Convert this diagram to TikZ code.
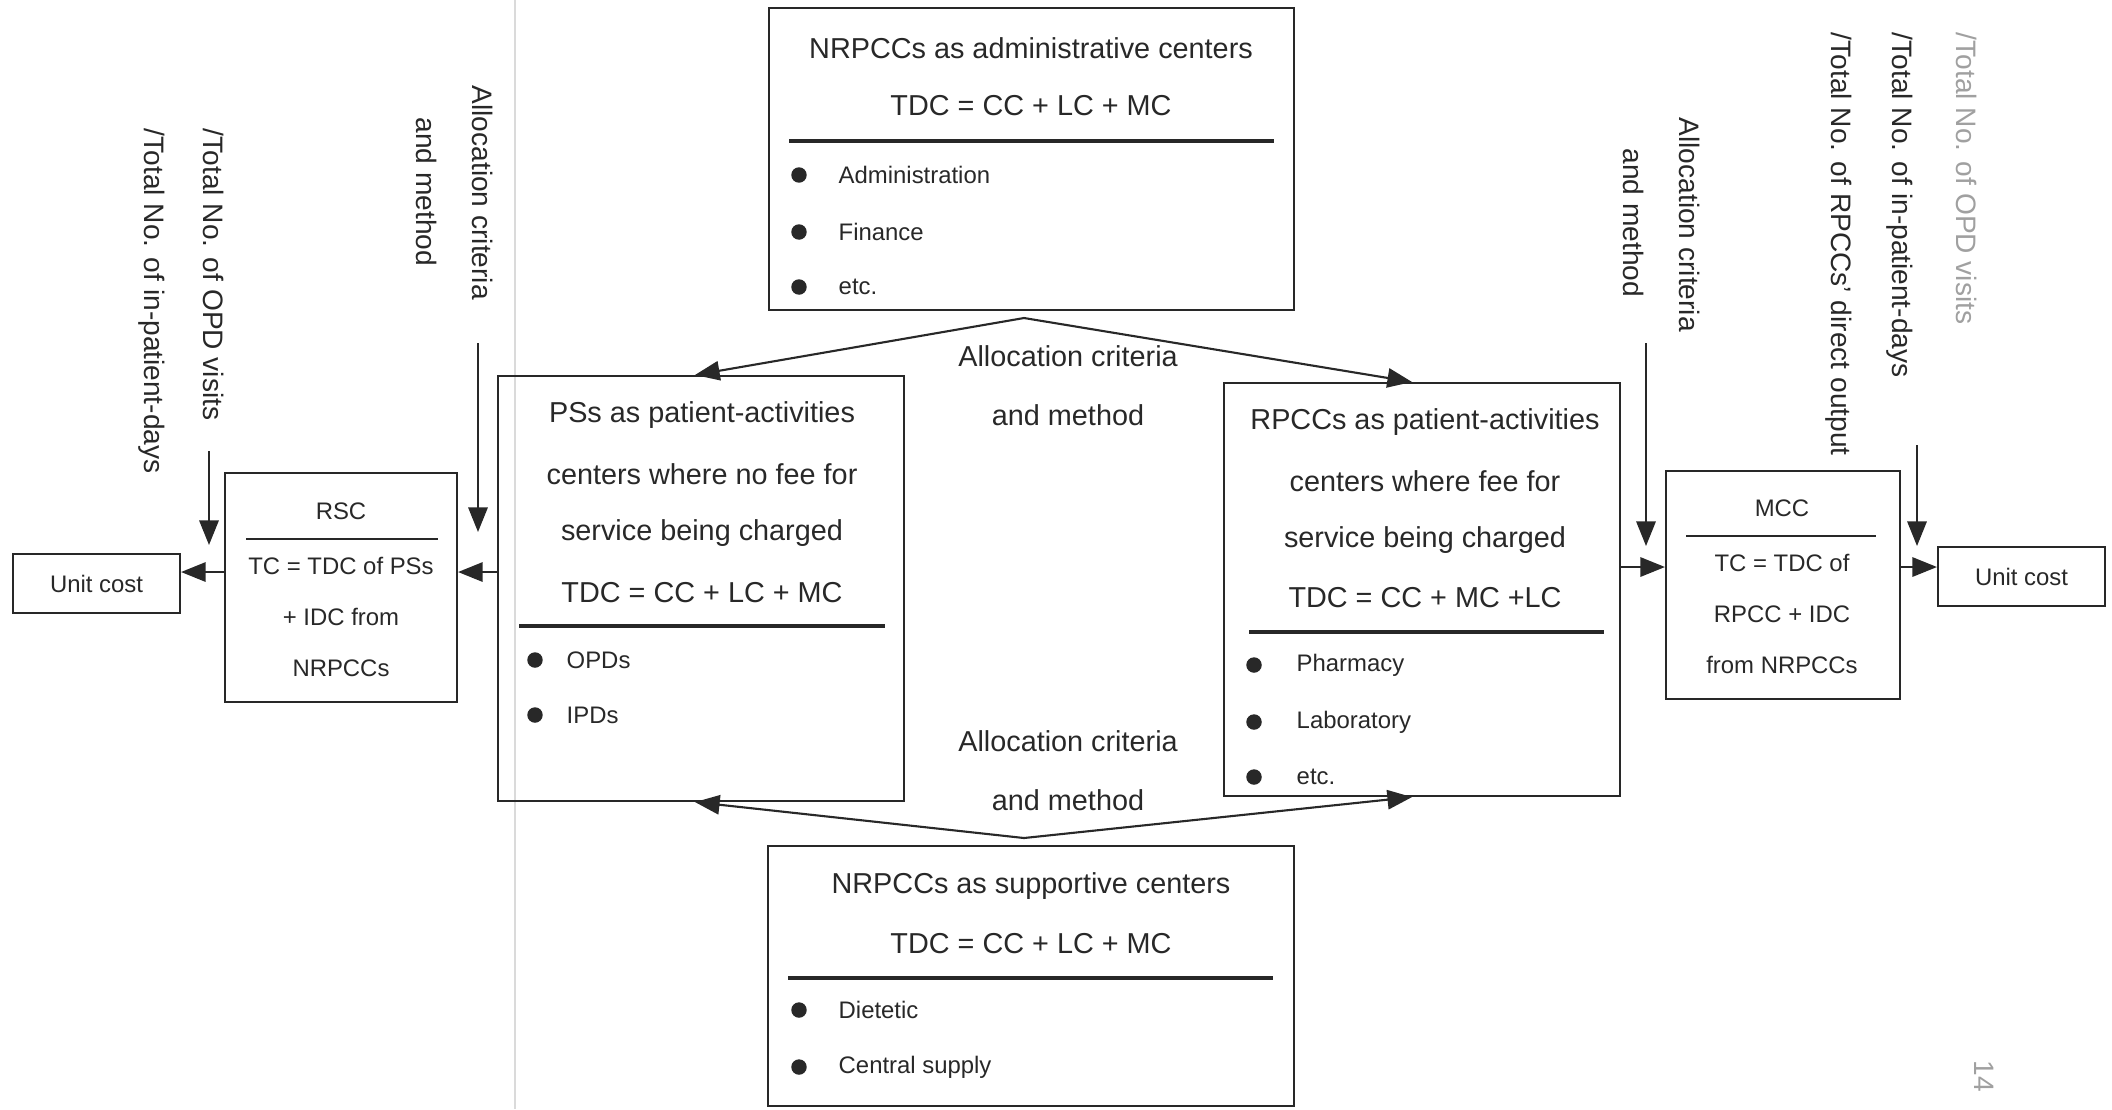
\documentclass[tikz,border=0pt]{standalone}
\usepackage{fontspec}
\setmainfont{Liberation Sans}
\usetikzlibrary{arrows.meta}
\definecolor{ink}{RGB}{40,40,40}
\definecolor{faint}{RGB}{160,160,160}
\definecolor{fold}{RGB}{218,218,218}

\tikzset{
  box/.style={draw=ink, line width=0.6pt, inner sep=0pt},
  rule/.style={draw=ink, line width=0.9pt},
  arr/.style={draw=ink, line width=0.6pt, -{Triangle[length=7pt,width=5.5pt]}},
  big/.style={text=ink, font=\fontsize{8.2}{10}\selectfont, inner sep=0pt},
  small/.style={text=ink, font=\fontsize{6.8}{8}\selectfont, inner sep=0pt},
  item/.style={small, anchor=west},
  vert/.style={text=ink, font=\fontsize{8}{10}\selectfont, inner sep=0pt, rotate=-90, anchor=west},
  dot/.style={circle, fill=ink, inner sep=0pt, minimum size=4.4pt},
}

\begin{document}
\begin{tikzpicture}[x=0.1mm,y=0.1mm,yscale=-1]
\useasboundingbox (0,0) rectangle (2112,1109);
% scanner fold
\draw[fold, line width=0.5pt] (515,0) -- (515,1109);

% boxes
\node[box, minimum width=52.5mm, minimum height=30.2mm] (adm) at (1031.5,159) {};
\node[box, minimum width=40.6mm, minimum height=42.5mm] (ps) at (701,588.5) {};
\node[box, minimum width=39.6mm, minimum height=41.3mm] (rp) at (1422,589.5) {};
\node[box, minimum width=52.6mm, minimum height=26.0mm] (sup) at (1031,976) {};
\node[box, minimum width=23.2mm, minimum height=22.9mm] (rsc) at (341,587.5) {};
\node[box, minimum width=23.4mm, minimum height=22.8mm] (mcc) at (1783,585) {};
\node[box, minimum width=16.7mm, minimum height=5.9mm] (ucl) at (96.5,583.5) {};
\node[box, minimum width=16.7mm, minimum height=5.9mm] (ucr) at (2021.5,576.5) {};

% administrative centers
\node[big] (admA) at (1031,48) {NRPCCs as administrative centers};
\node[big] (admB) at (1031,106) {TDC = CC + LC + MC};
\draw[rule] (789,141) -- (1274,141);
\node[dot] (admd1) at (799,175) {};
\node[item] (admi1) at (838,175) {Administration};
\node[dot] (admd2) at (799,232) {};
\node[item] (admi2) at (838,232) {Finance};
\node[dot] (admd3) at (799,287) {};
\node[item] (admi3) at (838,287) {etc.};

% PSs
\node[big] (psA) at (702,415) {PSs as patient-activities};
\node[big] (psB) at (702,474) {centers where no fee for};
\node[big] (psC) at (702,533) {service being charged};
\node[big] (psD) at (702,593) {TDC = CC + LC + MC};
\draw[rule] (519,626) -- (885,626);
\node[dot] (psd1) at (535,660) {};
\node[item] (psi1) at (566,660) {OPDs};
\node[dot] (psd2) at (535,715) {};
\node[item] (psi2) at (566,715) {IPDs};

% RPCCs
\node[big] (rpA) at (1425,422) {RPCCs as patient-activities};
\node[big] (rpB) at (1425,481) {centers where fee for};
\node[big] (rpC) at (1425,540) {service being charged};
\node[big] (rpD) at (1425,598) {TDC = CC + MC +LC};
\draw[rule] (1249,632) -- (1604,632);
\node[dot] (rpd1) at (1254,665) {};
\node[item] (rpi1) at (1296,665) {Pharmacy};
\node[dot] (rpd2) at (1254,722) {};
\node[item] (rpi2) at (1296,722) {Laboratory};
\node[dot] (rpd3) at (1254,777) {};
\node[item] (rpi3) at (1296,777) {etc.};

% supportive centers
\node[big] (supA) at (1031,886) {NRPCCs as supportive centers};
\node[big] (supB) at (1031,944) {TDC = CC + LC + MC};
\draw[rule] (788,978) -- (1273,978);
\node[dot] (supd1) at (799,1010) {};
\node[item] (supi1) at (838,1010) {Dietetic};
\node[dot] (supd2) at (799,1067) {};
\node[item] (supi2) at (838,1067) {Central supply};

% RSC and MCC
\node[small] (rscA) at (341,511) {RSC};
\draw[line width=0.5pt, draw=ink] (246,539) -- (438,539);
\node[small] (rscB) at (341,566) {TC = TDC of PSs};
\node[small] (rscC) at (341,617) {+ IDC from};
\node[small] (rscD) at (341,668) {NRPCCs};
\node[small] (mccA) at (1782,508) {MCC};
\draw[line width=0.5pt, draw=ink] (1686,536) -- (1876,536);
\node[small] (mccB) at (1782,563) {TC = TDC of};
\node[small] (mccC) at (1782,614) {RPCC + IDC};
\node[small] (mccD) at (1782,665) {from NRPCCs};
\node[small] (uclT) at (ucl) {Unit cost};
\node[small] (ucrT) at (ucr) {Unit cost};

% allocation labels
\node[big] (alcA) at (1068,356) {Allocation criteria};
\node[big] (alcB) at (1068,415) {and method};
\node[big] (alcC) at (1068,741) {Allocation criteria};
\node[big] (alcD) at (1068,800) {and method};

% vertical labels
\node[vert] (lInpat) at (152,128) {/Total No. of in-patient-days};
\node[vert] (lOpd) at (214,128) {/Total No. of OPD visits};
\node[vert] (lMeth) at (427,117) {and method};
\node[vert] (lAlloc) at (483,85) {Allocation criteria};
\node[vert] (rMeth) at (1634,148) {and method};
\node[vert] (rAlloc) at (1690,117) {Allocation criteria};
\node[vert] (rOut) at (1839,32) {/Total No. of RPCCs' direct output};
\node[vert] (rInpat) at (1900,32) {/Total No. of in-patient-days};
\node[vert, text=faint] (rOpd) at (1967,32) {/Total No. of OPD visits};
\node[vert, text=faint] (page) at (1984,1060) {14};

% allocation arrows
\coordinate (topapex) at (1024,318);
\coordinate (botapex) at (1024,838);
\draw[arr] (topapex) -- ([xshift=-0.6mm]ps.north);
\draw[arr] (topapex) -- ([xshift=-1mm]rp.north);
\draw[arr] (botapex) -- ([xshift=-0.6mm]ps.south);
\draw[arr] (botapex) -- ([xshift=-1mm]rp.south);

% horizontal flow
\coordinate (lrow) at (0,572);
\coordinate (rrow) at (0,567);
\draw[arr] (ps.west |- lrow) -- (rsc.east |- lrow);
\draw[arr] (rsc.west |- lrow) -- (ucl.east |- lrow);
\draw[arr] (rp.east |- rrow) -- (mcc.west |- rrow);
\draw[arr] (mcc.east |- rrow) -- (ucr.west |- rrow);

% vertical inputs
\coordinate (lopdS) at (209,451);
\coordinate (lopdE) at (209,545);
\coordinate (lalcS) at (478,343);
\coordinate (lalcE) at (478,532);
\coordinate (ralcS) at (1646,343);
\coordinate (ralcE) at (1646,546);
\coordinate (rinS) at (1917,445);
\coordinate (rinE) at (1917,546);
\draw[arr] (lopdS) -- (lopdE);
\draw[arr] (lalcS) -- (lalcE);
\draw[arr] (ralcS) -- (ralcE);
\draw[arr] (rinS) -- (rinE);
\end{tikzpicture}
\end{document}
